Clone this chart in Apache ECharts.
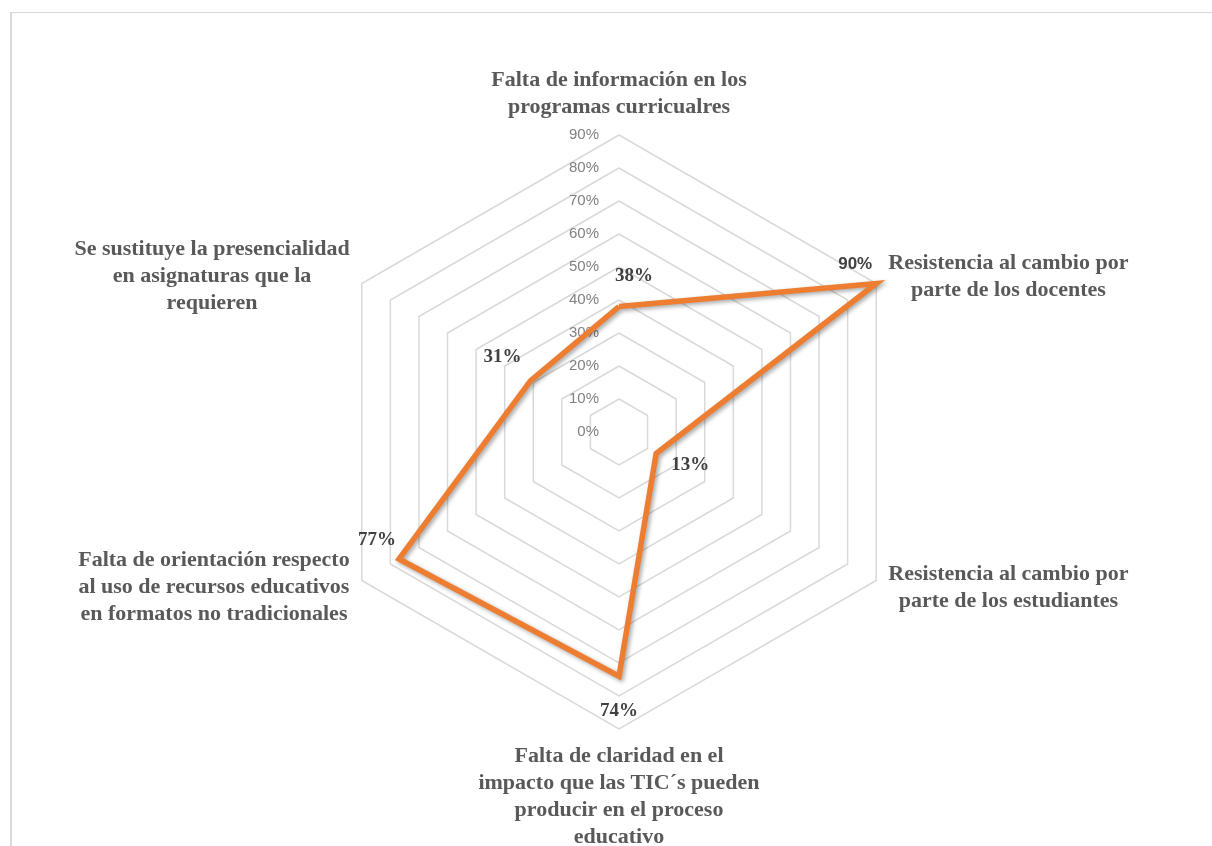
<!DOCTYPE html>
<html>
<head>
<meta charset="utf-8">
<script src="https://cdn.jsdelivr.net/npm/echarts@6/dist/echarts.min.js"></script>
<style>
  html, body { margin: 0; padding: 0; background: #ffffff; }
  #frame {
    position: absolute; left: 10px; top: 12px; width: 1230px; height: 860px;
    border-top: 1px solid #d9d9d9; border-left: 2px solid #d9d9d9;
  }
  #chart { position: absolute; left: 0; top: 0; width: 1212px; height: 846px; }
</style>
</head>
<body>
<div id="frame"></div>
<div id="chart"></div>
<script>
// clockwise from the top, as in the picture
const categories = [
  'Falta de información en los\nprogramas curricualres',
  'Resistencia al cambio por\nparte de los docentes',
  'Resistencia al cambio por\nparte de los estudiantes',
  'Falta de claridad en el\nimpacto que las TIC´s pueden\nproducir en el proceso\neducativo',
  'Falta de orientación respecto\nal uso de recursos educativos\nen formatos no tradicionales',
  'Se sustituye la presencialidad\nen asignaturas que la\nrequieren'
];
const values = [38, 90, 13, 74, 77, 31];
const axisMin = 0;
const axisMax = 90;
const splitCount = 9;

// label nudges from each vertex (dx, dy)
const labelOffsets = [[15, -31], [-21, -19], [34, 12], [0, 35], [-22, -19], [-28, -24]];

// echarts goes counter-clockwise, so walk the list backwards after the first
const order = [0, 5, 4, 3, 2, 1];

const chart = echarts.init(document.getElementById('chart'), null, { renderer: 'canvas' });

const option = {
  backgroundColor: 'transparent',
  animation: false,
  radar: {
    center: [619, 432],
    radius: 297,
    startAngle: 90,
    shape: 'polygon',
    splitNumber: splitCount,
    nameGap: 14,
    axisName: {
      formatter: function (name) {
        return name.split('\n').map(function (s) { return '{c|' + s + '}'; }).join('\n');
      },
      rich: {
        c: {
          align: 'center',
          fontFamily: 'Liberation Serif',
          fontWeight: 'bold',
          fontSize: 22,
          lineHeight: 27,
          color: '#595959'
        }
      }
    },
    axisLine: { show: false },
    axisTick: { show: false },
    splitArea: { show: false },
    splitLine: { lineStyle: { color: '#d9d9d9', width: 1.5 } },
    axisLabel: {
      show: true,
      formatter: '{value}%',
      color: '#808080',
      fontFamily: 'Liberation Sans',
      fontSize: 15,
      margin: 20
    },
    indicator: order.map(function (i, k) {
      const ind = { name: categories[i], min: axisMin, max: axisMax };
      if (k !== 0) ind.axisLabel = { show: false };
      return ind;
    })
  },
  series: [{
    type: 'radar',
    symbol: 'circle',
    symbolSize: 1,
    itemStyle: { color: '#ED7D31' },
    lineStyle: {
      color: '#ED7D31',
      width: 5.5,
      join: 'miter',
      shadowColor: 'rgba(0,0,0,0.35)',
      shadowBlur: 4,
      shadowOffsetX: 2,
      shadowOffsetY: 2
    },
    label: {
      show: true,
      position: 'inside',
      formatter: function (p) {
        const i = values.indexOf(p.value);
        return (i === 1 ? '{s|' : '{b|') + p.value + '%}';
      },
      rich: {
        b: { fontFamily: 'Liberation Serif', fontWeight: 'bold', fontSize: 19, color: '#404040' },
        s: { fontFamily: 'Liberation Sans', fontWeight: 'bold', fontSize: 17, color: '#404040' }
      }
    },
    labelLayout: function (params) {
      const m = String(params.text).match(/\d+/);
      const i = m ? values.indexOf(Number(m[0])) : -1;
      if (i < 0) return {};
      return { dx: labelOffsets[i][0], dy: labelOffsets[i][1] };
    },
    data: [{ value: order.map(function (i) { return values[i]; }) }]
  }]
};

chart.setOption(option);
</script>
</body>
</html>
